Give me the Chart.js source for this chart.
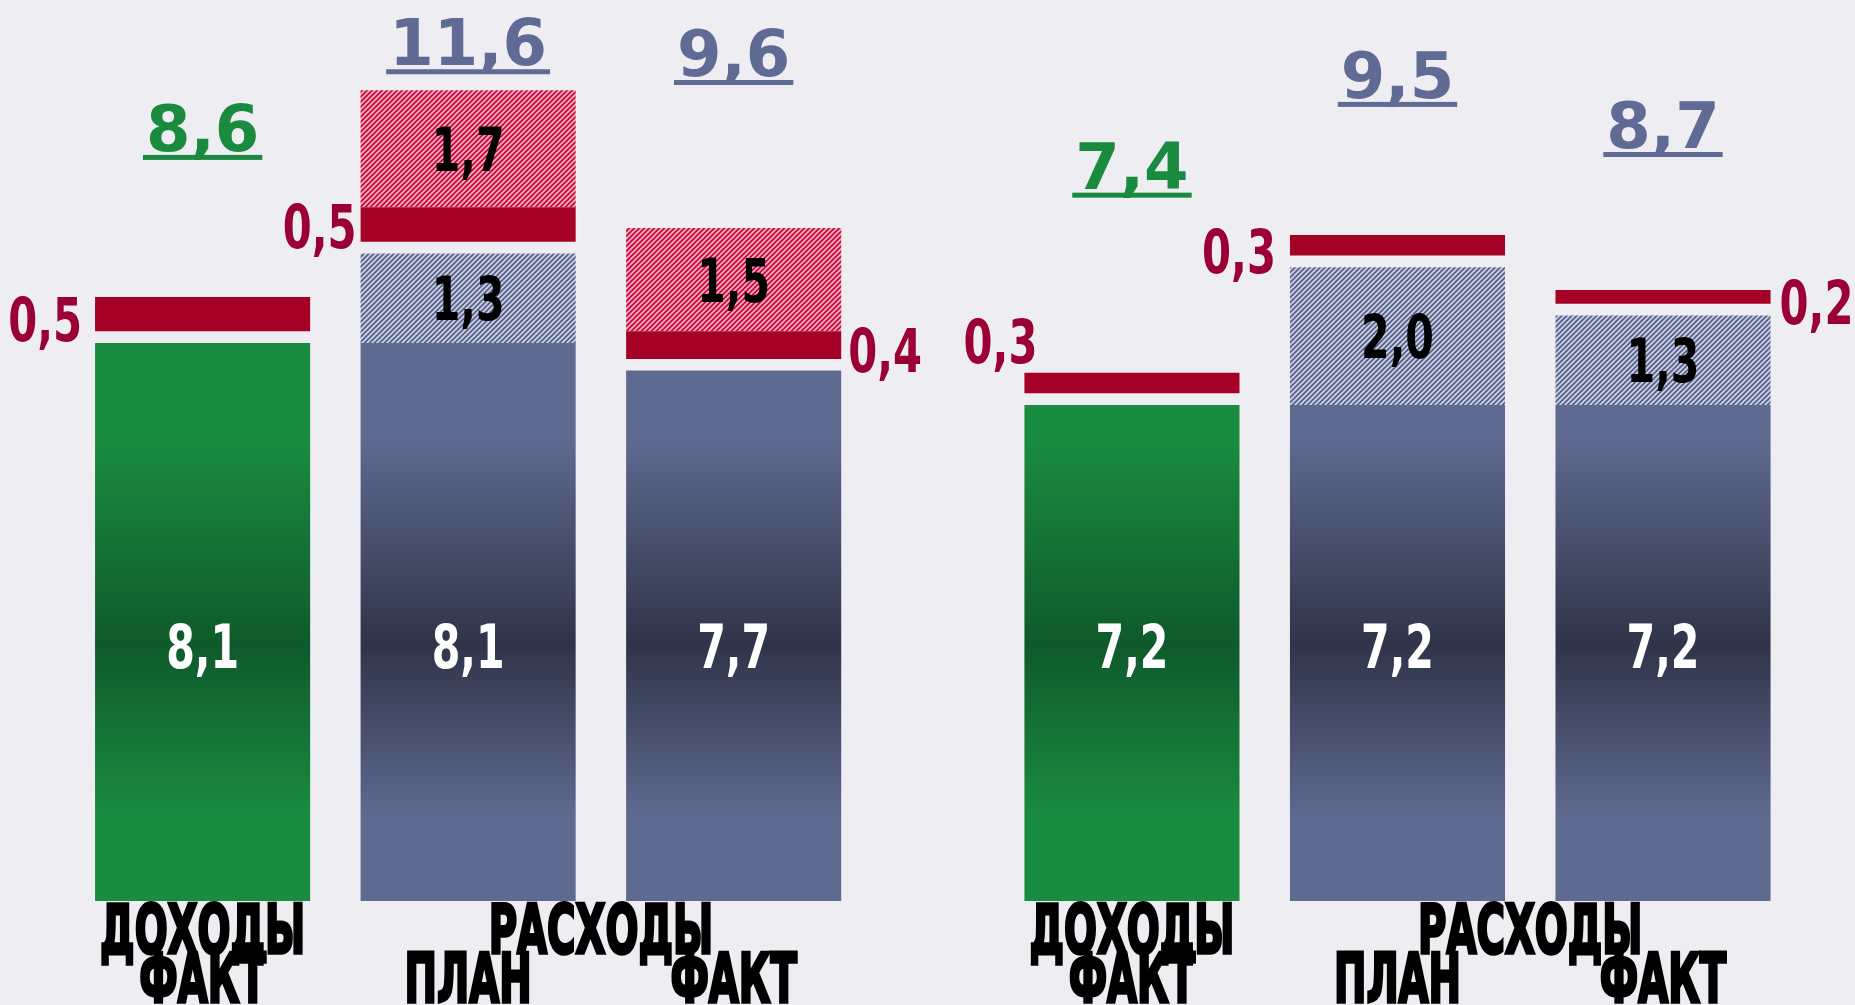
<!DOCTYPE html>
<html lang="ru">
<head>
<meta charset="utf-8">
<title>Доходы и расходы</title>
<script src="https://cdn.jsdelivr.net/npm/chart.js@4.4.1/dist/chart.umd.min.js"></script>
<style>
  html, body { margin: 0; padding: 0; background: #eeedf2; }
  canvas { display: block; }
</style>
</head>
<body>
<canvas id="myC" width="1855" height="1005"></canvas>
<script>
// two years, each: income fact, expenses plan, expenses fact
const groups = ['ДОХОДЫ', 'РАСХОДЫ', 'РАСХОДЫ', 'ДОХОДЫ', 'РАСХОДЫ', 'РАСХОДЫ'];
const kinds = ['ФАКТ', 'ПЛАН', 'ФАКТ', 'ФАКТ', 'ПЛАН', 'ФАКТ'];
const baseValues = [8.1, 8.1, 7.7, 7.2, 7.2, 7.2];
const reserveValues = [0, 1.3, 0, 0, 2.0, 1.3];
const redValues = [0.5, 0.5, 0.4, 0.3, 0.3, 0.2];
const extraValues = [0, 1.7, 1.5, 0, 0, 0];
const totals = [8.6, 11.6, 9.6, 7.4, 9.5, 8.7];

const GAP = 0.17; // empty strip between the base part and the red part
const narrow = '"DejaVu Sans Condensed", "DejaVu Sans", sans-serif';
const fmt = v => v.toFixed(1).replace('.', ',');

// second block sits half a slot further right
const xOf = i => i + (i >= 3 ? 0.5 : 0);
const points = vals => vals.map((v, i) => ({ x: xOf(i), y: v }));

const ctx = document.querySelector('#myC').getContext('2d');

function hatch(bg, fg) {
  const n = 5;
  const c = document.createElement('canvas');
  c.width = c.height = n;
  const p = c.getContext('2d');
  p.fillStyle = bg;
  p.fillRect(0, 0, n, n);
  p.strokeStyle = fg;
  p.lineWidth = 1.7;
  p.beginPath();
  p.moveTo(-1, n + 1); p.lineTo(n + 1, -1);
  p.moveTo(-1, 1); p.lineTo(1, -1);
  p.moveTo(n - 1, n + 1); p.lineTo(n + 1, n - 1);
  p.stroke();
  return ctx.createPattern(c, 'repeat');
}

const blueHatch = hatch('#56628b', '#cdd2e2');
const redHatch = hatch('#cc0638', '#f5b2c4');

function baseFill(context) {
  const chart = context.chart;
  const { chartArea, scales } = chart;
  if (!chartArea) return '#5f6a91';
  const top = scales.y.getPixelForValue(8.1);
  const bottom = scales.y.getPixelForValue(0);
  const g = chart.ctx.createLinearGradient(0, top, 0, bottom);
  const green = groups[context.dataIndex] === 'ДОХОДЫ';
  const light = green ? '#1a8c3f' : '#5f6a91';
  const dark = green ? '#0f5a2c' : '#2f3448';
  g.addColorStop(0, light);
  g.addColorStop(0.17, light);
  g.addColorStop(0.54, dark);
  g.addColorStop(0.85, light);
  g.addColorStop(1, light);
  return g;
}

// text squeezed horizontally around its anchor point
function squeezed(c, txt, x, y, font, sx, align) {
  c.save();
  c.translate(x, y);
  c.scale(sx, 1);
  c.font = font;
  c.textAlign = align;
  c.fillText(txt, 0, 0);
  c.restore();
}

const labelPlugin = {
  id: 'barLabels',
  afterDatasetsDraw(chart, args, opts) {
    const { ctx, scales: { y } } = chart;
    const metas = [0, 1, 2, 3, 4].map(i => chart.getDatasetMeta(i));
    const capH = 44;
    const valFont = `bold 61px ${narrow}`;
    ctx.save();
    ctx.textBaseline = 'alphabetic';

    groups.forEach((g, i) => {
      const base = metas[0].data[i];
      const reserve = metas[1].data[i];
      const red = metas[3].data[i];
      const extra = metas[4].data[i];
      const x = base.x;
      const half = base.width / 2;

      ctx.fillStyle = '#ffffff';
      squeezed(ctx, fmt(baseValues[i]), x, y.getPixelForValue(3.7) + capH / 2, valFont, 0.75, 'center');

      ctx.fillStyle = '#000000';
      if (reserveValues[i]) {
        squeezed(ctx, fmt(reserveValues[i]), x, (reserve.y + reserve.base) / 2 + capH / 2, valFont, 0.75, 'center');
      }
      if (extraValues[i]) {
        squeezed(ctx, fmt(extraValues[i]), x, (extra.y + extra.base) / 2 + capH / 2, valFont, 0.75, 'center');
      }

      // red part value, beside the bar
      ctx.fillStyle = '#9a0034';
      const right = opts.redSide[i] === 'right';
      const rx = right ? x + half + opts.redDx[i] : x - half - opts.redDx[i];
      squeezed(ctx, fmt(redValues[i]), rx, red.y + capH - opts.redLift[i], valFont, 0.76, right ? 'left' : 'right');

      // underlined total above the bar
      const top = Math.min(red.y, extra.y);
      const ty = top - opts.totalLift[i];
      ctx.font = 'bold 64px "DejaVu Sans", sans-serif';
      ctx.textAlign = 'center';
      ctx.fillStyle = g === 'ДОХОДЫ' ? '#1a8a3e' : '#5f6b94';
      const txt = fmt(totals[i]);
      const w = ctx.measureText(txt).width;
      ctx.fillText(txt, x, ty);
      ctx.fillRect(x - w / 2 - 3, ty + 4, w + 6, 5);
    });

    // category captions under the bars
    const drawCap = (txt, cx, by) => {
      ctx.save();
      ctx.translate(cx, by);
      ctx.scale(0.57, 1);
      ctx.font = 'bold 68px "DejaVu Sans", sans-serif';
      ctx.fillStyle = '#000000';
      ctx.strokeStyle = '#000000';
      ctx.lineWidth = 3.5;
      ctx.textAlign = 'center';
      ctx.strokeText(txt, 0, 0);
      ctx.fillText(txt, 0, 0);
      ctx.restore();
    };
    let start = 0;
    groups.forEach((g, i) => {
      if (i === groups.length - 1 || groups[i + 1] !== g || xOf(i + 1) - xOf(i) > 1) {
        const cx = (metas[0].data[start].x + metas[0].data[i].x) / 2;
        drawCap(g, cx, 953);
        start = i + 1;
      }
      drawCap(kinds[i], metas[0].data[i].x, 1002);
    });
    ctx.restore();
  }
};

const chart = new Chart(ctx, {
  type: 'bar',
  data: {
    datasets: [
      { label: 'base', data: points(baseValues), backgroundColor: baseFill },
      { label: 'reserve', data: points(reserveValues), backgroundColor: blueHatch },
      { label: 'gap', data: points(groups.map(() => GAP)), backgroundColor: 'rgba(0,0,0,0)' },
      { label: 'red', data: points(redValues), backgroundColor: '#a50026' },
      { label: 'extra', data: points(extraValues), backgroundColor: redHatch }
    ]
  },
  options: {
    responsive: false,
    animation: false,
    barPercentage: 0.81,
    categoryPercentage: 1,
    layout: { padding: { top: 0, left: 0, right: 0, bottom: 104 } },
    scales: {
      x: {
        type: 'linear',
        stacked: true,
        display: false,
        offset: false,
        min: -0.763,
        max: 6.223,
        // no ticks, so bar width follows the spacing of the bars only
        afterBuildTicks: scale => { scale.ticks = []; }
      },
      y: { stacked: true, display: false, min: 0, max: 13.08 }
    },
    plugins: {
      legend: { display: false },
      tooltip: { enabled: false },
      barLabels: {
        redSide: ['left', 'left', 'right', 'left', 'left', 'right'],
        redDx: [13, 4, 7, -13, 14, 9],
        redLift: [0, 3, 3, 54, 6, 10],
        totalLift: [146, 25, 152, 184, 137, 142]
      }
    }
  },
  plugins: [labelPlugin]
});
</script>
</body>
</html>
